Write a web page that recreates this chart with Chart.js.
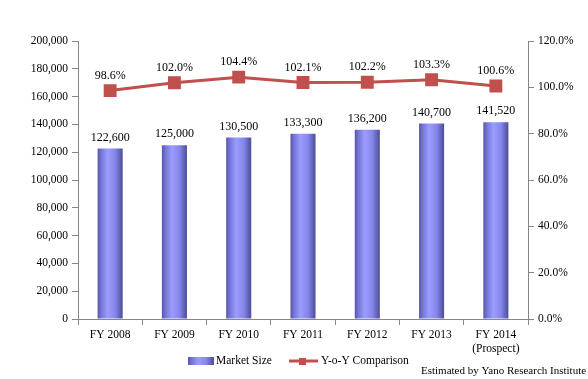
<!DOCTYPE html>
<html>
<head>
<meta charset="utf-8">
<script src="https://cdn.jsdelivr.net/npm/chart.js@4/dist/chart.umd.min.js"></script>
<style>
  html, body { margin: 0; padding: 0; background: #fff; }
  #wrap { width: 588px; height: 379px; position: relative; }
</style>
</head>
<body>
<div id="wrap"><canvas id="myChart" width="588" height="379"></canvas></div>
<script>
// chart data
var years = [['FY 2008'], ['FY 2009'], ['FY 2010'], ['FY 2011'], ['FY 2012'], ['FY 2013'], ['FY 2014', '(Prospect)']]
var marketSize = [122600, 125000, 130500, 133300, 136200, 140700, 141520]
var yoy = [98.6, 102.0, 104.4, 102.1, 102.2, 103.3, 100.6]
var leftTicks = [0, 20000, 40000, 60000, 80000, 100000, 120000, 140000, 160000, 180000, 200000]
var rightTicks = [0, 20, 40, 60, 80, 100, 120]

var serif = '"Liberation Serif", "Times New Roman", serif'
var axisColor = '#868686'
var redLine = '#c0504d'
var barPct = 0.39

function barGradient(ctx, x0, x1) {
    var g = ctx.createLinearGradient(x0, 0, x1, 0)
    g.addColorStop(0, '#5656ac')
    g.addColorStop(0.15, '#7676d8')
    g.addColorStop(0.4, '#9c9cff')
    g.addColorStop(0.7, '#8686ea')
    g.addColorStop(1, '#4c4c98')
    return g
}

// gradient fill for each bar, worked out from the x scale ==>
function barFill(context) {
    var chart = context.chart
    var xs = chart.scales.x
    if (!xs || context.dataIndex === undefined) return '#8080ee'
    var cx = xs.getPixelForValue(context.dataIndex)
    var w = (xs.width / years.length) * barPct
    if (!isFinite(cx) || !isFinite(w)) return '#8080ee'
    return barGradient(chart.ctx, cx - w / 2, cx + w / 2)
}

// value labels + legend + source note ==>
var labelsPlugin = {
    id: 'labelsPlugin',
    afterDatasetsDraw(chart) {
        var ctx = chart.ctx
        ctx.save()
        ctx.fillStyle = '#000'
        ctx.font = '12px ' + serif
        ctx.textAlign = 'center'
        ctx.textBaseline = 'bottom'
        chart.getDatasetMeta(1).data.forEach((bar, i) => {
            ctx.fillText(marketSize[i].toLocaleString('en-US'), bar.x, bar.y - 5)
        })
        chart.getDatasetMeta(0).data.forEach((pt, i) => {
            ctx.fillText(yoy[i].toFixed(1) + '%', pt.x, pt.y - 9)
        })

        // legend
        var ly = 361
        ctx.fillStyle = barGradient(ctx, 188, 214)
        ctx.fillRect(188, ly - 4, 26, 8)
        ctx.fillStyle = '#000'
        ctx.font = '11.5px ' + serif
        ctx.textAlign = 'left'
        ctx.textBaseline = 'middle'
        ctx.fillText('Market Size', 216, ly)

        ctx.strokeStyle = redLine
        ctx.lineWidth = 3
        ctx.beginPath()
        ctx.moveTo(289, ly)
        ctx.lineTo(318, ly)
        ctx.stroke()
        ctx.fillStyle = redLine
        ctx.fillRect(299, ly - 3, 7, 7)
        ctx.fillStyle = '#000'
        ctx.fillText('Y-o-Y Comparison', 321, ly)

        ctx.font = '11px ' + serif
        ctx.fillText('Estimated by Yano Research Institute', 421, 371)
        ctx.restore()
    }
}

const ctx = document.getElementById('myChart')
Chart.defaults.font.family = serif
Chart.defaults.font.size = 11
Chart.defaults.color = '#000'

new Chart(ctx, {
    data: {
        labels: years,
        datasets: [{
            type: 'line',
            label: 'Y-o-Y Comparison',
            data: yoy,
            yAxisID: 'y1',
            borderColor: redLine,
            backgroundColor: redLine,
            borderWidth: 3,
            pointStyle: 'rect',
            pointRadius: 7,
            pointHoverRadius: 7,
            tension: 0,
            order: 0
        }, {
            type: 'bar',
            label: 'Market Size',
            data: marketSize,
            yAxisID: 'y',
            backgroundColor: barFill,
            barPercentage: barPct,
            categoryPercentage: 1,
            order: 1
        }]
    },
    options: {
        responsive: false,
        animation: false,
        layout: { padding: { top: 41, left: 0, right: 0, bottom: 0 } },
        plugins: {
            legend: { display: false },
            tooltip: { enabled: false }
        },
        scales: {
            x: {
                offset: true,
                grid: { display: true, offset: true, drawOnChartArea: false, tickLength: 6, color: axisColor },
                border: { color: axisColor, width: 1 },
                ticks: { font: { size: 11.5 }, padding: 3, maxRotation: 0, autoSkip: false },
                afterFit(scale) { scale.height = 60 }
            },
            y: {
                position: 'left',
                min: 0,
                max: 200000,
                afterBuildTicks(scale) { scale.ticks = leftTicks.map(v => ({ value: v })) },
                grid: { display: true, drawOnChartArea: false, tickLength: 6, color: axisColor },
                border: { color: axisColor, width: 1 },
                ticks: {
                    padding: 4,
                    font: { size: 11.5 },
                    callback: (v) => v.toLocaleString('en-US')
                },
                afterFit(scale) { scale.width = 78 }
            },
            y1: {
                position: 'right',
                min: 0,
                max: 120,
                afterBuildTicks(scale) { scale.ticks = rightTicks.map(v => ({ value: v })) },
                grid: { display: true, drawOnChartArea: false, tickLength: 6, color: axisColor },
                border: { color: axisColor, width: 1 },
                ticks: {
                    padding: 4,
                    font: { size: 11.5 },
                    callback: (v) => v.toFixed(1) + '%'
                },
                afterFit(scale) { scale.width = 60 }
            }
        }
    },
    plugins: [labelsPlugin]
})
</script>
</body>
</html>
